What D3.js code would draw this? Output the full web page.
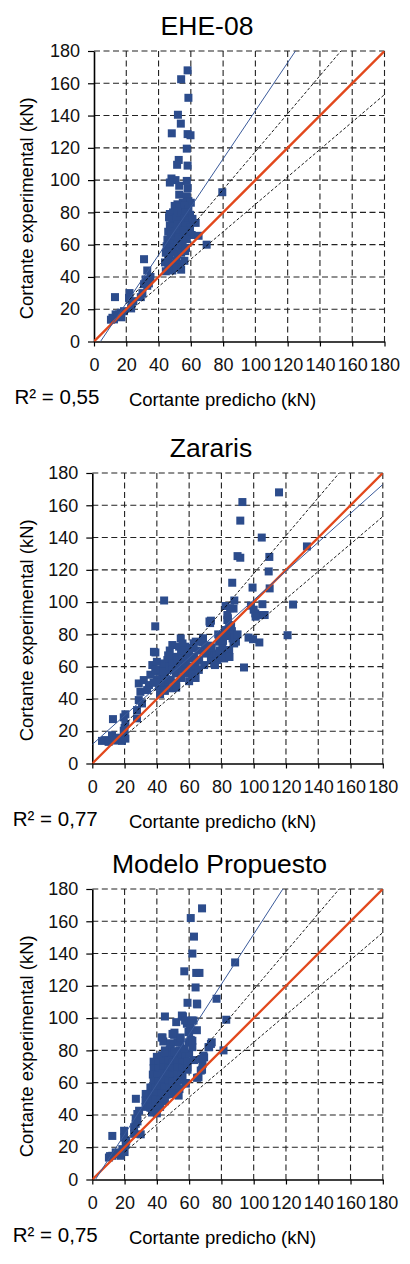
<!DOCTYPE html>
<html>
<head>
<meta charset="utf-8">
<script src="https://cdn.jsdelivr.net/npm/d3@7"></script>
<style>
  html, body { margin: 0; padding: 0; background: #fff; }
  svg { display: block; font-family: "Liberation Sans", Arial, sans-serif; }
</style>
</head>
<body>
<svg id="chart" width="410" height="1264"></svg>
<script>
const titles = ["EHE-08", "Zararis", "Modelo Propuesto"];
const r2Labels = ["R² = 0,55", "R² = 0,77", "R² = 0,75"];
const xLabel = "Cortante predicho (kN)";
const yLabel = "Cortante experimental (kN)";
const ticks = [0, 20, 40, 60, 80, 100, 120, 140, 160, 180];
const fitSlopes = [1.49, 0.895, 1.55];
const fitIntercepts = [-6, 11.8, -3];
const band = 0.15;
const bandStart = 20;

// EHE-08: [predicho, experimental]
const eheData = [
  [58, 168], [54, 162.5], [58.5, 151], [52, 140.5], [53.8, 135], [48.2, 129], [58, 128.5], [59.8, 127.8],
  [57.5, 119.5], [52.5, 112.5], [51.5, 109.5], [58, 109], [79.5, 92.5],
  [48, 101], [50.5, 100], [47, 98.5], [52.8, 96.5], [57.5, 99.5], [58, 95], [52.8, 91], [57.5, 90],
  [58.5, 87], [55, 86], [60, 86], [51.7, 85],
  [50, 84], [53, 83], [56, 84], [58.5, 82],
  [47, 79], [49, 80], [52, 80.5], [54.5, 79], [57, 80], [59.5, 78.5],
  [46.5, 77], [48.5, 75.5], [51, 76], [53.5, 75], [56, 76.5], [58.5, 75], [61, 76], [63, 73.5],
  [47, 72], [49.5, 71], [52, 72.5], [54.5, 71], [57, 72], [59.5, 70.5],
  [46, 68], [48, 66.5], [50.5, 68], [53, 67], [55.5, 68.5], [58, 67], [60.5, 66],
  [45.5, 63], [47.5, 64], [50, 62.5], [52.5, 64.5], [55, 63], [57.5, 63.5], [64.8, 65.5],
  [45, 59], [47, 60.5], [49.5, 58.5], [52, 60], [54.5, 59], [57, 58], [69.8, 60],
  [44.5, 55], [46.5, 53.5], [49, 55.5], [51.5, 54], [54, 55], [56.5, 56],
  [44, 49], [46, 50.5], [48.5, 48.5], [51, 50], [53.5, 48], [56, 50],
  [44.5, 43.5], [46, 45.5], [48.5, 44], [51, 46], [54, 44.5],
  [31, 51], [33, 44], [32, 38.5], [31, 35.5], [33, 34.5], [30, 30], [29, 27.5], [35, 40], [34, 36],
  [22, 30], [21.7, 27], [23.2, 23], [24.4, 25], [23, 20.5], [13, 27.5],
  [13.4, 16.8], [15.5, 16.8], [11.4, 14.7], [16.6, 17.8], [12.4, 13.7], [14.5, 15.8], [18.6, 18.8],
  [17, 15], [10.5, 13.5]
];

// Zararis: [predicho, experimental]
const zararisData = [
  [115.7, 168], [93, 162], [91.7, 150.5], [105, 140], [133, 134.5], [90, 128.5], [91.7, 127.5],
  [109.7, 128], [109.3, 119], [86.7, 112], [99.3, 109], [109.9, 108.5], [44.5, 101], [124.4, 98.5],
  [105.4, 98.7], [88, 101], [82.6, 97.6], [87.5, 96], [85.4, 96.2], [98.3, 97.8], [100, 95.3],
  [101, 93], [105.7, 92], [101.2, 91], [73.5, 88.5], [84, 90],
  [39, 85], [121, 79.5], [94, 59.5], [96.8, 78], [103.5, 75], [106.8, 92], [99.6, 77], [87.5, 75],
  [86.5, 82], [73, 87], [72.6, 88], [68.6, 77.6], [62.8, 74.5], [57.6, 72.4], [39.1, 68.8],
  [12.8, 27.5], [8, 14.5], [12.2, 17.5], [15.3, 15.4], [18.4, 14], [20.5, 15.4], [6, 14], [10.1, 13.4],
  [19.5, 28.6], [20.5, 24.5], [19.5, 20.3], [17, 16], [20, 17.5], [13.5, 14.2], [20.5, 30.5], [20, 22],
  [29.8, 44.4], [28.8, 39.3], [27.7, 33.1], [27.7, 28], [30.8, 37.2], [28.8, 49.6], [31.9, 51.7],
  [35.1, 48.6], [34, 45.5],
  [37.2, 61], [38.2, 69.2], [40.3, 56.9], [43.4, 53.9], [41.3, 47.6], [45.5, 49.7], [49.7, 46.6],
  [48.6, 51.8], [51.7, 55.8], [47.6, 57.9], [44.5, 60], [46.5, 64.1], [50.7, 66.1], [49.6, 73.4],
  [53.8, 72.4], [54.8, 77.5], [55.9, 74.4], [58, 66.1], [56.9, 62], [53.8, 58.9], [60, 65.1], [60, 60],
  [62, 71.4], [64.1, 75.5], [62, 56.9], [64.1, 61], [66.2, 64.1], [69.3, 61], [68.3, 75.3], [70.4, 68.1],
  [73.5, 64.1], [74.5, 68.1], [78.6, 75.5], [80.6, 79.6], [82.7, 82.7], [83.7, 88.9], [84.8, 85.8],
  [86.9, 77.5], [87.9, 74.4], [82.7, 69.2], [81.7, 65.1], [77.5, 64.1], [75.5, 62], [80.6, 72.4],
  [84.8, 70.3], [89, 75.5], [83.7, 92],
  [42, 43], [44, 46], [40, 52], [38, 50], [36, 55], [42, 58], [46, 52], [52, 50], [55, 53], [58, 56],
  [52, 62], [55, 68], [57, 70], [48, 70], [44, 62], [40, 63], [62, 55], [66, 58], [64, 53], [60, 51],
  [71, 70], [72, 73], [77, 68], [79, 70], [85, 66], [88, 78], [90, 80], [76, 61],
  [42, 50], [45, 55], [48, 60], [50, 62], [47, 67], [43, 57], [39, 58], [53, 64], [56, 58], [58, 62],
  [50, 58], [45, 45], [52, 47], [56, 65], [60, 70], [63, 66], [66, 70], [70, 73], [74, 72], [78, 80],
  [81, 76], [86, 85], [83, 79]
];

// Modelo Propuesto: [predicho, experimental]
const propuestoData = [
  [68, 168], [61, 162], [63, 150.5], [62, 140], [88.5, 134.5], [57, 129], [64.4, 128], [66.4, 128],
  [64, 119], [77, 112], [59, 109.5], [65, 108.5], [83, 99], [45, 101], [52, 97.5], [56, 101],
  [58.6, 96.5], [60.6, 94.4], [62.7, 98.5], [64.8, 92.5], [59.6, 91.4], [43, 88], [50.7, 89.6],
  [44, 85.5], [48.4, 84.4], [54.4, 85], [59.6, 85], [61, 86.5], [55.5, 80], [73.5, 84], [72, 82],
  [81.3, 80], [50.9, 91], [56.1, 101], [55.5, 101.6], [57.5, 98.5], [61.7, 98.5], [64.8, 109],
  [43.5, 88], [49.7, 90.2], [60, 91.3], [52.8, 85], [48.6, 84], [62, 86], [54.8, 88], [74, 85],
  [72.4, 82], [69.3, 75.7], [67.2, 67.5], [65.8, 63.3], [68.3, 71.6], [68, 68], [64.9, 63],
  [57.6, 59.8], [52.4, 59.8], [68.9, 76.8], [67.9, 74.7],
  [27, 50], [12.4, 27], [19.7, 30.2], [19.7, 26], [20.7, 21.9], [18.6, 18.8], [16.6, 15.7],
  [12.4, 14.7], [10.3, 13.6], [14.5, 16.8], [17.6, 14.7],
  [27.9, 40.6], [26.9, 37.5], [29, 42.6], [25.9, 32.4], [25.9, 28.3], [26.9, 34.5],
  [33.1, 53], [35.2, 48.8], [36.2, 44.7], [38.3, 42.6], [37.2, 57.1], [39.3, 63.3], [41.4, 71.6],
  [41.4, 75.7], [47.6, 69.5], [51.7, 67.5], [53.8, 73.7], [58, 59.4], [55.9, 63.3], [49.7, 59.4],
  [43.5, 57.2], [45.5, 53], [41.4, 48.9], [39.3, 51], [53.8, 77.8], [56.9, 76.8], [59, 69.5],
  [47.6, 77.8], [43.5, 73.7], [45.5, 63.3],
  [45, 80], [48, 80.5], [51, 79.5], [54, 80], [57, 79],
  [40, 76], [43, 77], [46, 76.5], [49, 77], [52, 76], [55, 77], [58, 76],
  [38, 73], [41, 72.5], [44, 73], [47, 73.5], [50, 72.5], [53, 73], [56, 72.5], [59, 73],
  [38, 69], [41, 68.5], [44, 69.5], [47, 68.5], [50, 69], [53, 69.5], [56, 68.5], [59, 68],
  [37.5, 65], [40.5, 64.5], [43.5, 65.5], [46.5, 65], [49.5, 64.5], [52.5, 65], [55.5, 64.5],
  [38, 61], [41, 60.5], [44, 61.5], [47, 61], [50, 60.5], [53, 61.5],
  [36, 57], [39, 56.5], [42, 57.5], [45, 57], [48, 56.5], [51, 57], [54, 56],
  [34, 53], [37, 52.5], [40, 53.5], [43, 53], [46, 52.5], [50, 53], [53.5, 52],
  [33, 49], [36, 48.5], [39, 49.5], [42, 49], [45, 48.5],
  [33, 45], [36, 44.5], [39, 45.5], [42, 45], [37, 41.5], [40, 41],
  [60, 78], [62, 82], [57, 81], [51, 79], [45, 79], [63, 74], [30, 28], [28, 36], [20, 17], [21, 24], [11, 14.5]
];

const datasets = [eheData, zararisData, propuestoData];

// panel placement on the page
const panels = [
  { left: 94, top: 51, titleX: 207 },
  { left: 92.3, top: 473, titleX: 211 },
  { left: 92.3, top: 889, titleX: 219.5 }
];

const size = 290.5;
const markerSize = 8;
const markerColor = "#2c4c8c";
const svg = d3.select("#chart");
const x = d3.scaleLinear().domain([0, 180]).range([0, size]);
const y = d3.scaleLinear().domain([0, 180]).range([size, 0]);

svg.append("defs").append("clipPath").attr("id", "plotClip")
  .append("rect").attr("x", 0).attr("y", 0).attr("width", size).attr("height", size);

panels.forEach((p, i) => {
  const g = svg.append("g").attr("transform", `translate(${p.left},${p.top})`);

  // title
  svg.append("text")
    .attr("x", p.titleX).attr("y", p.top - 16.5)
    .attr("text-anchor", "middle")
    .style("font-size", "26.5px")
    .text(titles[i]);

  // dashed grid
  g.append("g").selectAll("line").data(ticks.slice(1)).join("line")
    .attr("x1", (d) => x(d)).attr("x2", (d) => x(d)).attr("y1", 0).attr("y2", size)
    .attr("stroke", "#222").attr("stroke-width", 1.1).attr("stroke-dasharray", "6,3.5");
  g.append("g").selectAll("line").data(ticks.slice(1)).join("line")
    .attr("y1", (d) => y(d)).attr("y2", (d) => y(d)).attr("x1", 0).attr("x2", size)
    .attr("stroke", "#222").attr("stroke-width", 1.1).attr("stroke-dasharray", "6,3.5");

  // axes
  g.append("g")
    .attr("transform", `translate(0,${size})`)
    .call(d3.axisBottom(x).tickValues(ticks).tickSize(5).tickSizeOuter(0).tickPadding(12))
    .call((a) => a.select(".domain").attr("stroke", "#000").attr("stroke-width", 1.6))
    .call((a) => a.selectAll(".tick line").attr("stroke", "#000").attr("stroke-width", 1.2))
    .call((a) => a.selectAll("text").attr("fill", "#111").style("font-size", "18px")
      .style("font-family", "\"Liberation Sans\", Arial, sans-serif"));
  g.append("g")
    .call(d3.axisLeft(y).tickValues(ticks).tickSize(6).tickSizeOuter(0).tickPadding(8))
    .call((a) => a.select(".domain").attr("stroke", "#000").attr("stroke-width", 1.6))
    .call((a) => a.selectAll(".tick line").attr("stroke", "#000").attr("stroke-width", 1.2))
    .call((a) => a.selectAll("text").attr("fill", "#111").style("font-size", "18px")
      .style("font-family", "\"Liberation Sans\", Arial, sans-serif"));

  const plot = g.append("g").attr("clip-path", "url(#plotClip)");

  // points
  plot.append("g").selectAll("rect").data(datasets[i]).join("rect")
    .attr("x", (d) => x(d[0]) - markerSize / 2).attr("y", (d) => y(d[1]) - markerSize / 2)
    .attr("width", markerSize).attr("height", markerSize)
    .attr("fill", markerColor);

  // +/-15% lines
  const upper = [[bandStart, bandStart / (1 - band)], [180 * (1 - band), 180]];
  const lower = [[bandStart, bandStart * (1 - band)], [180, 180 * (1 - band)]];
  const line = d3.line().x((d) => x(d[0])).y((d) => y(d[1]));
  [upper, lower].forEach((seg) => {
    plot.append("path").attr("d", line(seg)).attr("fill", "none")
      .attr("stroke", "#000").attr("stroke-width", 0.9).attr("stroke-dasharray", "3,2");
  });

  // y = x
  plot.append("path").attr("d", line([[0, 0], [180, 180]])).attr("fill", "none")
    .attr("stroke", "#e2481c").attr("stroke-width", 2.3);

  // fit line
  const m = fitSlopes[i], b = fitIntercepts[i];
  const xa = Math.max(0, -b / m), xb = Math.min(180, (180 - b) / m);
  plot.append("path").attr("d", line([[xa, m * xa + b], [xb, m * xb + b]])).attr("fill", "none")
    .attr("stroke", "#3a5a9a").attr("stroke-width", 1);

  // axis titles
  svg.append("text")
    .attr("transform", `translate(33,${p.top + size / 2 + 12}) rotate(-90)`)
    .attr("text-anchor", "middle")
    .style("font-size", "18.5px")
    .text(yLabel);
  svg.append("text")
    .attr("x", 222.5).attr("y", p.top + size + 64)
    .attr("text-anchor", "middle")
    .style("font-size", "18.5px")
    .text(xLabel);
  svg.append("text")
    .attr("x", p.left - 79.5).attr("y", p.top + size + 62)
    .style("font-size", "20.5px")
    .text(r2Labels[i]);
});
</script>
</body>
</html>
